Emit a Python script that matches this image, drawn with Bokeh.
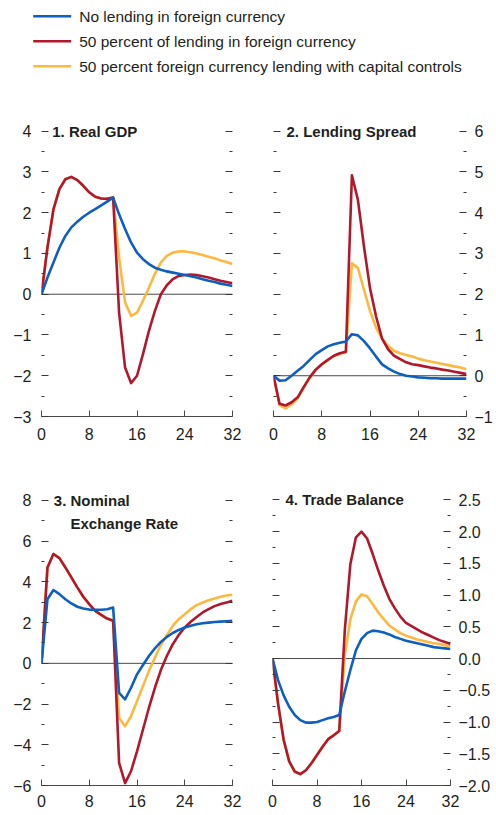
from bokeh.plotting import figure
from bokeh.models import Range1d, LinearAxis, FixedTicker, Span, Label
from bokeh.layouts import column, row
from bokeh.core.properties import value
from bokeh.embed import file_html
from bokeh.resources import INLINE

# ---------------- data ----------------
quarters = list(range(33))
series_names = ["No lending in foreign currency",
                "50 percent of lending in foreign currency",
                "50 percent foreign currency lending with capital controls"]

gdp_none = [0, 0.41, 0.78, 1.14, 1.43, 1.64, 1.78, 1.90, 2.00, 2.09, 2.18, 2.27, 2.37,
            1.96, 1.60, 1.27, 1.02, 0.86, 0.74, 0.65, 0.60, 0.56, 0.53, 0.50, 0.47,
            0.44, 0.41, 0.37, 0.33, 0.30, 0.26, 0.23, 0.20]
gdp_fx50 = [0, 1.15, 2.08, 2.58, 2.82, 2.88, 2.80, 2.66, 2.50, 2.39, 2.35, 2.34, 2.37,
            -0.45, -1.80, -2.18, -2.00, -1.47, -0.90, -0.41, 0.00, 0.22, 0.37, 0.45, 0.47,
            0.48, 0.47, 0.44, 0.41, 0.37, 0.33, 0.30, 0.27]
gdp_cc = [0, 1.15, 2.08, 2.58, 2.82, 2.88, 2.80, 2.66, 2.50, 2.39, 2.35, 2.34, 2.37,
          0.90, -0.20, -0.53, -0.45, -0.16, 0.16, 0.50, 0.78, 0.94, 1.02, 1.05, 1.05,
          1.03, 1.00, 0.96, 0.92, 0.88, 0.83, 0.79, 0.74]

spread_none = [0, -0.12, -0.11, 0.00, 0.12, 0.24, 0.39, 0.53, 0.63, 0.72, 0.77, 0.81, 0.84,
               1.02, 0.99, 0.85, 0.67, 0.47, 0.28, 0.18, 0.10, 0.04, 0.00, -0.02, -0.04,
               -0.05, -0.06, -0.06, -0.07, -0.07, -0.07, -0.07, -0.07]
spread_fx50 = [0, -0.69, -0.73, -0.65, -0.53, -0.28, -0.04, 0.15, 0.28, 0.39, 0.49, 0.55, 0.59,
               4.92, 4.31, 3.17, 2.15, 1.46, 0.91, 0.65, 0.49, 0.41, 0.33, 0.28, 0.26,
               0.23, 0.20, 0.18, 0.15, 0.13, 0.10, 0.07, 0.04]
spread_cc = [0, -0.72, -0.80, -0.70, -0.56, -0.30, -0.06, 0.14, 0.27, 0.38, 0.48, 0.54, 0.57,
             2.76, 2.64, 2.11, 1.59, 1.18, 0.91, 0.73, 0.61, 0.55, 0.51, 0.47, 0.42,
             0.38, 0.35, 0.32, 0.29, 0.26, 0.23, 0.20, 0.16]

fx_none = [0, 3.15, 3.60, 3.40, 3.15, 2.94, 2.78, 2.69, 2.64, 2.63, 2.63, 2.66, 2.74,
           -1.45, -1.77, -1.20, -0.54, -0.08, 0.36, 0.74, 1.05, 1.30, 1.49, 1.64, 1.76,
           1.85, 1.92, 1.97, 2.00, 2.03, 2.05, 2.07, 2.09]
fx_fx50 = [0, 4.71, 5.37, 5.17, 4.71, 4.22, 3.73, 3.27, 2.91, 2.58, 2.38, 2.20, 2.09,
           -4.89, -5.88, -5.30, -4.32, -3.25, -2.18, -1.20, -0.33, 0.36, 0.94, 1.40, 1.76,
           2.04, 2.28, 2.50, 2.66, 2.81, 2.91, 2.99, 3.07]
fx_cc = [0, 4.71, 5.37, 5.17, 4.71, 4.22, 3.73, 3.27, 2.91, 2.58, 2.38, 2.20, 2.09,
         -2.68, -3.09, -2.59, -1.86, -1.12, -0.38, 0.28, 0.90, 1.38, 1.84, 2.17, 2.41,
         2.66, 2.86, 2.99, 3.10, 3.19, 3.27, 3.33, 3.37]

tb_none = [0, -0.34, -0.58, -0.76, -0.89, -0.97, -1.01, -1.01, -1.00, -0.97, -0.94, -0.92, -0.89,
           -0.52, -0.18, 0.13, 0.31, 0.40, 0.44, 0.43, 0.41, 0.38, 0.34, 0.31, 0.28,
           0.26, 0.24, 0.22, 0.20, 0.18, 0.17, 0.16, 0.15]
tb_fx50 = [0, -0.71, -1.28, -1.62, -1.78, -1.82, -1.76, -1.65, -1.52, -1.39, -1.27, -1.21, -1.14,
           0.45, 1.49, 1.91, 2.00, 1.89, 1.65, 1.39, 1.15, 0.94, 0.79, 0.66, 0.56,
           0.51, 0.46, 0.41, 0.37, 0.33, 0.29, 0.26, 0.23]
tb_cc = [0, -0.71, -1.28, -1.62, -1.78, -1.82, -1.76, -1.65, -1.52, -1.39, -1.27, -1.21, -1.14,
         0.05, 0.62, 0.90, 1.01, 0.98, 0.86, 0.73, 0.62, 0.52, 0.46, 0.40, 0.36,
         0.33, 0.30, 0.28, 0.26, 0.24, 0.23, 0.21, 0.19]

x_ticks = [0, 8, 16, 24, 32]
x_tick_labels = ["0", "8", "16", "24", "32"]

gdp_ticks = [-3, -2, -1, 0, 1, 2, 3, 4]
gdp_minor = [-2.5, -1.5, -0.5, 0.5, 1.5, 2.5, 3.5]
gdp_labels = ["\u22123", "\u22122", "\u22121", "0", "1", "2", "3", "4"]

spread_ticks = [-1, 0, 1, 2, 3, 4, 5, 6]
spread_minor = [-0.5, 0.5, 1.5, 2.5, 3.5, 4.5, 5.5]
spread_labels = ["\u22121", "0", "1", "2", "3", "4", "5", "6"]

fx_ticks = [-6, -4, -2, 0, 2, 4, 6, 8]
fx_minor = [-5, -3, -1, 1, 3, 5, 7]
fx_labels = ["\u22126", "\u22124", "\u22122", "0", "2", "4", "6", "8"]

tb_ticks = [-2.0, -1.5, -1.0, -0.5, 0.0, 0.5, 1.0, 1.5, 2.0, 2.5]
tb_minor = [-1.75, -1.25, -0.75, -0.25, 0.25, 0.75, 1.25, 1.75, 2.25]
tb_labels = ["\u22122.0", "\u22121.5", "\u22121.0", "\u22120.5", "0.0", "0.5", "1.0", "1.5", "2.0", "2.5"]

# ---------------- style ----------------
BLUE = "#0d5fc0"
RED = "#b2182c"
YELLOW = "#fdb840"
TXT = "#231f20"
TICK = "#3a3a3a"
FONT = "Liberation Sans"


def style_yaxis(ax, ticks, minor, labels, show, standoff):
    ax.ticker = FixedTicker(ticks=ticks, minor_ticks=minor)
    ax.axis_line_color = None
    ax.major_tick_in = 7
    ax.major_tick_out = 0
    ax.minor_tick_in = 3
    ax.minor_tick_out = 0
    ax.major_tick_line_color = TICK
    ax.minor_tick_line_color = TICK
    ax.major_label_text_font = FONT
    ax.major_label_text_font_size = "16px"
    ax.major_label_text_color = TXT
    if show:
        ax.major_label_overrides = {t: l for t, l in zip(ticks, labels)}
        ax.major_label_standoff = standoff
    else:
        ax.major_label_overrides = {t: "" for t in ticks}
        ax.major_label_standoff = 0


def panel(width, height, border_left, border_right, frame_top, frame_bottom,
          y_start, px_per_unit, ticks, minor, labels, label_side, x_standoff, y_standoff,
          series, titles):
    y_end = y_start + (frame_bottom - frame_top) / px_per_unit
    p = figure(width=width, height=height,
               x_range=Range1d(0, 32), y_range=Range1d(y_start, y_end),
               output_backend="svg", toolbar_location=None,
               min_border_left=border_left,
               min_border_right=border_right,
               min_border_top=frame_top,
               min_border_bottom=height - frame_bottom)
    p.outline_line_color = None
    p.grid.visible = False
    p.background_fill_color = "white"
    p.border_fill_color = "white"

    xa = p.xaxis[0]
    xa.ticker = FixedTicker(ticks=x_ticks, minor_ticks=[])
    xa.major_label_overrides = {t: l for t, l in zip(x_ticks, x_tick_labels)}
    xa.axis_line_color = "#4a4a4a"
    xa.axis_line_width = 1
    xa.major_tick_in = 6
    xa.major_tick_out = 0
    xa.minor_tick_in = 0
    xa.minor_tick_out = 0
    xa.major_tick_line_color = "#4a4a4a"
    xa.major_label_text_font = FONT
    xa.major_label_text_font_size = "16px"
    xa.major_label_text_color = TXT
    xa.major_label_standoff = x_standoff

    style_yaxis(p.yaxis[0], ticks, minor, labels, label_side == "left", y_standoff)
    ra = LinearAxis()
    style_yaxis(ra, ticks, minor, labels, label_side == "right", y_standoff)
    p.add_layout(ra, "right")

    p.add_layout(Span(location=0, dimension="width", line_color="#4a4a4a",
                      line_width=1, level="underlay"))

    none, fx50, cc = series
    for ys, col in ((cc, YELLOW), (fx50, RED), (none, BLUE)):
        p.line(quarters, ys, line_color=col, line_width=2.6, line_join="round")

    for text, y, xoff in titles:
        p.add_layout(Label(x=0, y=y, x_offset=xoff, text=text, text_font=FONT,
                           text_font_style="bold", text_font_size="15px",
                           text_color=TXT, text_baseline="alphabetic"))
    return p


S1 = 40.76
p1 = panel(248, 353, 41, 16, 9, 323, -3, S1, gdp_ticks, gdp_minor, gdp_labels, "left", 11, 10,
           (gdp_none, gdp_fx50, gdp_cc), [("1. Real GDP", 4, 10.7)])
p2 = panel(248, 353, 25, 30, 9, 323, -1, S1, spread_ticks, spread_minor, spread_labels, "right", 11, 8,
           (spread_none, spread_fx50, spread_cc), [("2. Lending Spread", 6, 13)])
S3 = 20.36
p3 = panel(248, 369, 41, 16, 20, 339, -6, S3, fx_ticks, fx_minor, fx_labels, "left", 9, 10,
           (fx_none, fx_fx50, fx_cc),
           [("3. Nominal", 8, 12.3), ("Exchange Rate", 8 - 23.3 / S3, 29)])
S4 = 63.48
p4 = panel(248, 369, 24, 46, 20, 339, -2, S4, tb_ticks, tb_minor, tb_labels, "right", 9, 8,
           (tb_none, tb_fx50, tb_cc), [("4. Trade Balance", 2.5, 13)])

# ---------------- legend ----------------
LEG_H = 93
lg = figure(width=496, height=LEG_H, x_range=Range1d(0, 496), y_range=Range1d(LEG_H, 0),
            output_backend="svg", toolbar_location=None,
            x_axis_location=None, y_axis_location=None, min_border=0)
lg.outline_line_color = None
lg.grid.visible = False
for i, (name, col) in enumerate(zip(series_names, (BLUE, RED, YELLOW))):
    yy = 15.7 + 25 * i
    lg.segment(x0=32.7, y0=yy, x1=70.7, y1=yy, line_color=col, line_width=2.6)
    lg.text(x=[78.7], y=[yy], text=[name], text_font=value(FONT),
            text_font_size=value("15.5px"), text_color=TXT,
            text_baseline="middle", text_align="left")

layout = column(lg, row(p1, p2), row(p3, p4))
open("out.html", "w").write(file_html(layout, INLINE))
